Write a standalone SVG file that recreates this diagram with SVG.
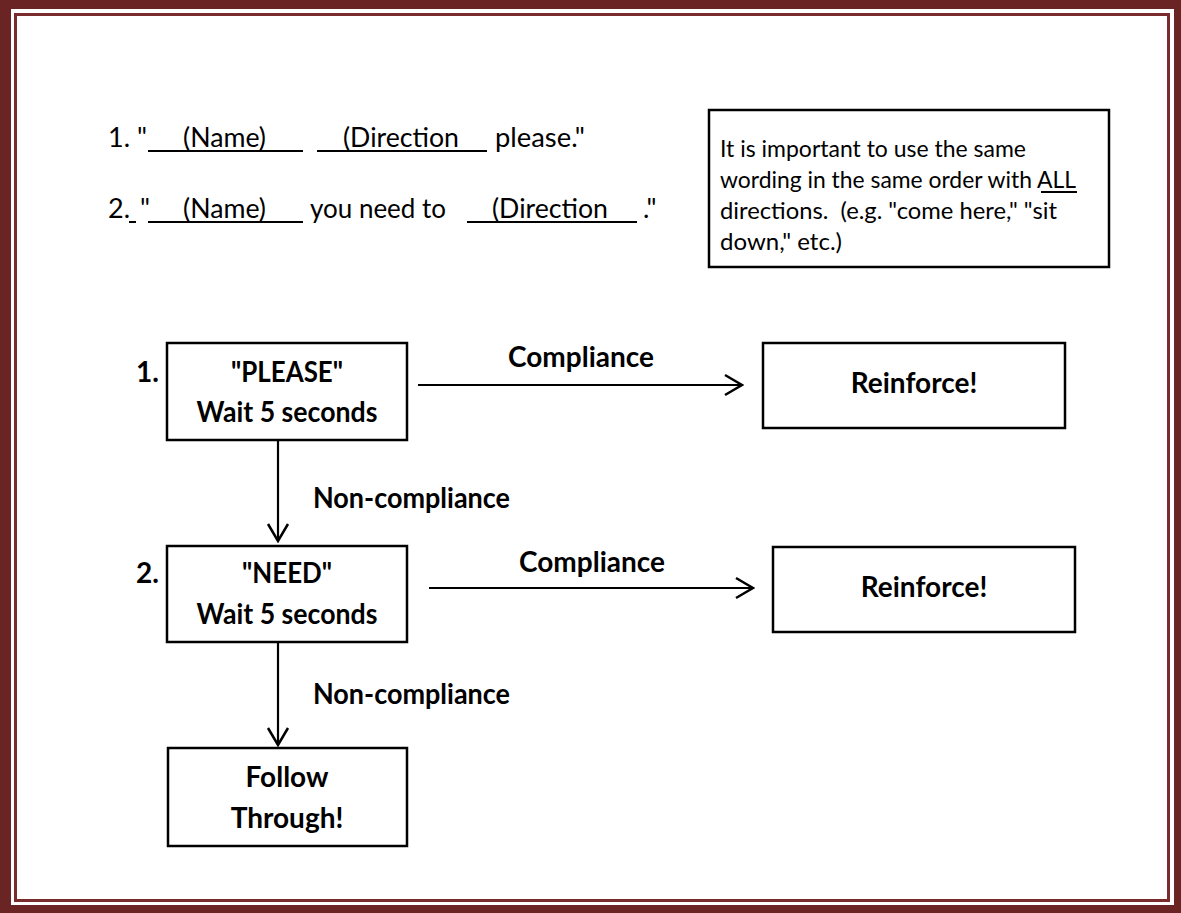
<svg xmlns="http://www.w3.org/2000/svg" width="1181" height="913" viewBox="0 0 1181 913">
<style>
.t{font-family:Lato,"Open Sans",sans-serif;fill:#000}
.r{font-size:27px}
.s{font-size:24px}
.b{font-size:28px;font-weight:bold}
.m{text-anchor:middle}
.box{fill:#fff;stroke:#000;stroke-width:2.5}
.ln{stroke:#000;stroke-width:2.2;fill:none}
.u{stroke:#000;stroke-width:2}
</style>
<defs>
<marker id="ah" viewBox="0 0 21 24" refX="19" refY="12" markerWidth="21" markerHeight="24" markerUnits="userSpaceOnUse" orient="auto">
<path d="M2,2 L19,12 L2,22" fill="none" stroke="#000" stroke-width="2.5"/>
</marker>
</defs>
<g id="frame">
<rect width="1181" height="913" fill="#6b2424"/>
<rect x="11" y="9" width="1163" height="896" fill="#fff"/>
<rect x="15.5" y="14.5" width="1153" height="886" fill="none" stroke="#7a2b2b" stroke-width="3"/>
</g>
<g id="script-lines">
<text class="t r" x="108" y="147" xml:space="preserve">1. "</text>
<text class="t r" x="183" y="147" textLength="83" lengthAdjust="spacingAndGlyphs">(Name)</text>
<text class="t r" x="343" y="147" textLength="116" lengthAdjust="spacingAndGlyphs">(Direction</text>
<text class="t r" x="495" y="147" textLength="90" lengthAdjust="spacingAndGlyphs">please."</text>
<line class="u" x1="148" y1="151" x2="303" y2="151"/>
<line class="u" x1="317" y1="151" x2="487" y2="151"/>
<text class="t r" x="108" y="218">2.</text>
<text class="t r" x="140" y="218">"</text>
<text class="t r" x="183" y="218" textLength="83" lengthAdjust="spacingAndGlyphs">(Name)</text>
<text class="t r" x="310" y="218" textLength="136" lengthAdjust="spacingAndGlyphs">you need to</text>
<text class="t r" x="492" y="218" textLength="116" lengthAdjust="spacingAndGlyphs">(Direction</text>
<text class="t r" x="643" y="218">."</text>
<line class="u" x1="129" y1="222" x2="136" y2="222"/>
<line class="u" x1="148" y1="222" x2="303" y2="222"/>
<line class="u" x1="467" y1="222" x2="637" y2="222"/>
</g>
<g id="note">
<rect class="box" x="709" y="110" width="400" height="157"/>
<text class="t s" x="720" y="157" textLength="306" lengthAdjust="spacingAndGlyphs">It is important to use the same</text>
<text class="t s" x="720" y="188" textLength="356" lengthAdjust="spacingAndGlyphs">wording in the same order with ALL</text>
<text class="t s" x="720" y="219" textLength="337" lengthAdjust="spacingAndGlyphs" xml:space="preserve">directions.  (e.g. "come here," "sit</text>
<text class="t s" x="720" y="250" textLength="122" lengthAdjust="spacingAndGlyphs">down," etc.)</text>
<line class="u" x1="1041" y1="192" x2="1077" y2="192"/>
</g>
<g id="connectors">
<line class="ln" x1="278" y1="440" x2="278" y2="541" marker-end="url(#ah)"/>
<line class="ln" x1="278" y1="642" x2="278" y2="745" marker-end="url(#ah)"/>
<line class="ln" x1="418" y1="385" x2="742" y2="385" marker-end="url(#ah)"/>
<line class="ln" x1="429" y1="588" x2="753" y2="588" marker-end="url(#ah)"/>
<text class="t b m" x="581" y="367">Compliance</text>
<text class="t b m" x="592" y="572">Compliance</text>
<text class="t b" x="313" y="508" textLength="197" lengthAdjust="spacingAndGlyphs">Non-compliance</text>
<text class="t b" x="313" y="704" textLength="197" lengthAdjust="spacingAndGlyphs">Non-compliance</text>
</g>
<g id="node-please">
<rect class="box" x="167" y="343" width="240" height="97"/>
<text class="t b" x="136" y="382">1.</text>
<text class="t b m" x="287" y="382" textLength="112" lengthAdjust="spacingAndGlyphs">"PLEASE"</text>
<text class="t b m" x="287" y="422" textLength="181" lengthAdjust="spacingAndGlyphs">Wait 5 seconds</text>
</g>
<g id="node-reinforce1">
<rect class="box" x="763" y="343" width="302" height="85"/>
<text class="t b m" x="914" y="393">Reinforce!</text>
</g>
<g id="node-need">
<rect class="box" x="167" y="546" width="240" height="96"/>
<text class="t b" x="136" y="583">2.</text>
<text class="t b m" x="287" y="583" textLength="90" lengthAdjust="spacingAndGlyphs">"NEED"</text>
<text class="t b m" x="287" y="624" textLength="181" lengthAdjust="spacingAndGlyphs">Wait 5 seconds</text>
</g>
<g id="node-reinforce2">
<rect class="box" x="773" y="547" width="302" height="85"/>
<text class="t b m" x="924" y="597">Reinforce!</text>
</g>
<g id="node-follow">
<rect class="box" x="168" y="748" width="239" height="98"/>
<text class="t b m" x="287" y="787">Follow</text>
<text class="t b m" x="287" y="828">Through!</text>
</g>
</svg>
